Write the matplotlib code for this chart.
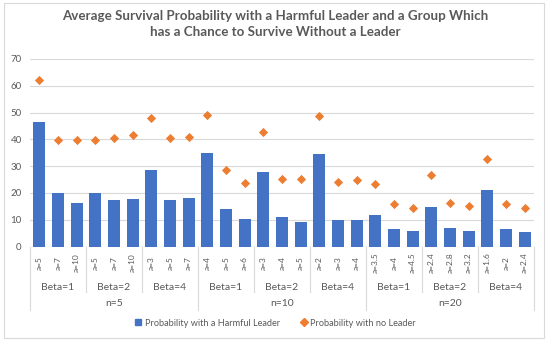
import matplotlib
matplotlib.use("Agg")
import matplotlib.pyplot as plt
import matplotlib.transforms as mtransforms
from matplotlib.lines import Line2D
from matplotlib.patches import Rectangle

# ===========================================
# DATA
# ===========================================
a_labels = ["a=5", "a=7", "a=10", "a=5", "a=7", "a=10", "a=3", "a=5", "a=7",
            "a=4", "a=5", "a=6", "a=3", "a=4", "a=5", "a=2", "a=3", "a=4",
            "a=3.5", "a=4", "a=4.5", "a=2.4", "a=2.8", "a=3.2", "a=1.6", "a=2", "a=2.4"]
beta_labels = ["Beta=1", "Beta=2", "Beta=4"] * 3
n_labels = ["n=5", "n=10", "n=20"]

harmful_leader = [46.5, 20.1, 16.2, 20.1, 17.4, 17.7, 28.4, 17.2, 18.0,
                  35.0, 14.1, 10.1, 27.9, 11.1, 9.3, 34.5, 9.8, 9.8,
                  11.9, 6.6, 5.7, 14.9, 6.8, 5.7, 21.0, 6.6, 5.3]
no_leader = [62.2, 39.8, 39.6, 39.7, 40.4, 41.5, 47.8, 40.4, 40.9,
             49.0, 28.5, 23.6, 42.7, 25.1, 25.1, 48.8, 23.9, 24.9,
             23.3, 15.9, 14.3, 26.6, 16.2, 15.0, 32.8, 15.9, 14.2]

TITLE = ("Average Survival Probability with a Harmful Leader and a Group Which\n"
         "has a Chance to Survive Without a Leader")
BLUE = "#4472C4"
ORANGE = "#ED7D31"
TXT = "#595959"
GRID = "#D9D9D9"
FONT = "Lato"
# ===========================================


def main():
    plt.rcParams["font.family"] = [FONT, "DejaVu Sans"]
    W, H = 550, 343
    fig = plt.figure(figsize=(W / 100, H / 100), dpi=100)

    def fy(py):
        return 1 - py / H

    # chart area border
    fig.patches.append(Rectangle((4 / W, fy(338)), 540 / W, 335 / H,
                                 transform=fig.transFigure, fill=False,
                                 edgecolor="#D9D9D9", linewidth=0.8))

    ax = fig.add_axes([30 / W, fy(246.5), 504 / W, 187.5 / H])
    n = len(a_labels)
    x = list(range(n))
    ax.bar(x, harmful_leader, width=0.66, color=BLUE, zorder=2)
    ax.scatter(x, no_leader, marker="D", s=22, color=ORANGE, zorder=3, linewidths=0)

    ax.set_xlim(-0.5, n - 0.5)
    ax.set_ylim(0, 70)
    ax.set_yticks(range(0, 71, 10))
    ax.yaxis.grid(True, color=GRID, linewidth=0.8, zorder=0)
    ax.set_axisbelow(True)
    for s in ax.spines.values():
        s.set_visible(False)
    ax.tick_params(axis="y", length=0, labelsize=7, labelcolor=TXT, pad=6)
    ax.set_xticks([])

    trans = mtransforms.blended_transform_factory(ax.transData, fig.transFigure)

    # level 1: a labels
    for i, lab in enumerate(a_labels):
        ax.text(i, fy(263), lab, rotation=90, ha="center", va="center",
                fontsize=6, color=TXT, transform=trans)
    # level 2: beta labels
    for g, lab in enumerate(beta_labels):
        ax.text(g * 3 + 1, fy(287), lab, ha="center", va="center",
                fontsize=7.5, color=TXT, transform=trans)
    # level 3: n labels
    for g, lab in enumerate(n_labels):
        ax.text(g * 9 + 4, fy(304), lab, ha="center", va="center",
                fontsize=7.5, color=TXT, transform=trans)

    # group separators
    for b in range(0, n + 1, 3):
        bottom = 310 if b % 9 == 0 else 292
        fig.add_artist(Line2D([b - 0.5, b - 0.5], [fy(246.5), fy(bottom)],
                              transform=trans, color=GRID, linewidth=0.8))

    fig.text(0.5, fy(24), TITLE, ha="center", va="center", fontsize=9.6,
             fontweight="bold", color=TXT, linespacing=1.45)

    handles = [
        Line2D([], [], marker="s", linestyle="none", color=BLUE, markersize=4),
        Line2D([], [], marker="D", linestyle="none", color=ORANGE, markersize=3.8),
    ]
    fig.legend(handles, ["Probability with a Harmful Leader", "Probability with no Leader"],
               loc="center", bbox_to_anchor=(0.5, fy(323)), ncol=2, frameon=False,
               fontsize=6.6, labelcolor=TXT, handletextpad=0.3, columnspacing=2.2,
               handlelength=0.8)

    fig.savefig("out.png", dpi=100)


if __name__ == "__main__":
    main()
